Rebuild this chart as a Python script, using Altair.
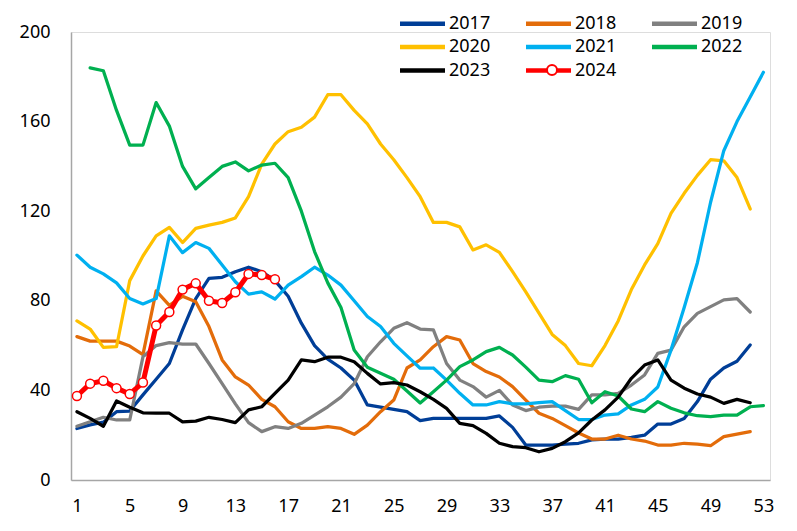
import altair as alt
import pandas as pd

years = ["2017", "2018", "2019", "2020", "2021", "2022", "2023", "2024"]
colors = ["#003E97", "#E36C0A", "#808080", "#FFC000", "#00B0F0", "#00B050", "#000000", "#FF0000"]
x_ticks = [1, 5, 9, 13, 17, 21, 25, 29, 33, 37, 41, 45, 49, 53]
y_ticks = [0, 40, 80, 120, 160, 200]

# first week of each series
starts = {"2017": 1, "2018": 1, "2019": 1, "2020": 1, "2021": 1, "2022": 2, "2023": 1, "2024": 1}

v2017 = [23, 24.6, 25.8, 30.5, 30.8, 38, 45, 52, 67, 81, 90, 90.5, 93, 95, 93, 89, 82, 70, 60, 54,
         50, 44.6, 33.5, 32.5, 31.5, 30.5, 26.5, 27.5, 27.5, 27.5, 27.5, 27.5, 28.6, 23.5, 15.6, 15.6,
         15.6, 16, 16.4, 17.9, 18.2, 18.2, 19, 20, 25, 25, 27.5, 35, 45, 50, 53, 60.3]
v2018 = [64, 62, 62, 62, 59.8, 56, 84.4, 78, 82, 79.6, 68.5, 53.6, 46, 42.4, 36, 32.7, 26, 23, 23, 23.8,
         23, 20.4, 24.5, 30.5, 35.7, 50, 53.6, 59.5, 64, 62.5, 52, 48.4, 46, 41.7, 35.7, 29.8, 27.5,
         24.3, 21, 18.3, 18.3, 20, 18.3, 17.4, 15.6, 15.6, 16.4, 16, 15.3, 19.4, 20.5, 21.6]
v2019 = [24, 26, 28, 26.8, 26.8, 55, 60, 61.3, 60.7, 60.7, 52, 43, 34, 25.6, 21.6, 23.8, 23, 25.3, 29,
         32.7, 37, 43, 55, 61.7, 67.7, 70.2, 67.4, 67, 52, 44.6, 41.7, 37, 40, 33.5, 31, 32.5, 33, 33,
         31.5, 38, 38, 38.7, 42.4, 46.9, 56.5, 58, 68.4, 74.4, 77.4, 80.4, 81, 75]
v2020 = [71, 67.4, 59.2, 59.5, 89, 100, 109, 112.8, 106, 112.3, 113.8, 115, 117, 126.5, 141, 150, 155.5,
         157.5, 162, 172, 172, 165, 159, 150, 143, 135, 126.5, 115, 115, 113, 102.7, 105, 101.6, 93, 84,
         74.5, 65, 60, 52, 51, 60, 71, 85, 96, 105.5, 119, 128, 136, 143, 142.5, 135, 121]
v2021 = [100.4, 95, 92, 88, 81, 78.6, 81, 109, 101.5, 106, 103.4, 96, 88.5, 83, 84, 80.8, 87, 90.8, 95,
         91.5, 87, 80, 73, 68.5, 61, 55.4, 49.9, 50, 44.6, 38.7, 33.5, 33.5, 35, 34, 34, 34.5, 35, 31, 27,
         27, 29, 29.5, 33.5, 36, 41.5, 58, 77, 97, 124, 147, 160, 171, 182]
v2022 = [184, 182.7, 165, 149.5, 149.5, 168.5, 158, 140, 130, 135, 140, 142, 138, 140.6, 141.4, 135, 120,
         102, 88, 77, 58, 50.3, 47.7, 45, 39.7, 34.4, 39.4, 44.6, 50.6, 53.6, 57.3, 59.2, 55.8, 50.4,
         44.6, 43.9, 46.6, 45, 34.5, 39.4, 37.5, 31.7, 30.5, 35, 32, 30, 28.7, 28.3, 29, 29, 32.7, 33.2]
v2023 = [30.5, 27.5, 24, 35.3, 32.5, 30, 29.8, 29.8, 26, 26.3, 28, 27, 25.6, 31.3, 32.7, 38.7, 44.6, 53.6,
         52.8, 54.8, 54.8, 52.8, 47.6, 42.9, 43.5, 42.4, 39.4, 36, 32, 25.3, 24.3, 20.8, 16.4, 14.9, 14.4,
         12.6, 14.1, 17.1, 21, 26.8, 31.3, 37, 45.4, 51.3, 53.6, 44.6, 41, 38.4, 37, 34.2, 36, 34.5]
v2024 = [37.5, 43, 44.3, 41, 38.4, 43.5, 69, 75, 85, 87.8, 80, 79, 83.8, 92, 91.5, 89.6]

series = {"2017": v2017, "2018": v2018, "2019": v2019, "2020": v2020,
          "2021": v2021, "2022": v2022, "2023": v2023, "2024": v2024}

rows = []
for yr in years:
    for i, v in enumerate(series[yr]):
        rows.append({"year": yr, "week": starts[yr] + i, "value": v, "mk": "o"})
df = pd.DataFrame(rows)
df_other = df[df["year"] != "2024"]
df_24 = df[df["year"] == "2024"]

FONT = "Noto Sans"
x_enc = alt.X("week:Q",
              scale=alt.Scale(domain=[0.55, 53.5], nice=False, zero=False),
              axis=alt.Axis(values=x_ticks, title=None, grid=False, ticks=False,
                            domainColor="#A6A6A6", domainWidth=1.5, labelFontSize=18,
                            labelPadding=17, labelFlush=False, labelColor="#000000",
                            labelFont=FONT))
y_enc = alt.Y("value:Q",
              scale=alt.Scale(domain=[0, 200], nice=False),
              axis=alt.Axis(values=y_ticks, title=None, grid=False, ticks=False,
                            domainColor="#A6A6A6", domainWidth=1.5, labelFontSize=18,
                            labelPadding=21, labelColor="#000000", labelFont=FONT))
color_enc = alt.Color("year:N",
                      scale=alt.Scale(domain=years, range=colors),
                      legend=alt.Legend(orient="none", legendX=340, legendY=-20, columns=3,
                                        direction="horizontal",
                                        title=None, symbolType="M-2.5,0H2.5", symbolSize=324,
                                        symbolStrokeWidth=4.5, labelFontSize=18, labelFont=FONT,
                                        labelOffset=15, columnPadding=26, rowPadding=2.5,
                                        labelColor="#000000"))

lines = alt.Chart(df_other).mark_line(strokeWidth=3.25, strokeJoin="round", strokeCap="round").encode(
    x=x_enc, y=y_enc, color=color_enc)
red_line = alt.Chart(df_24).mark_line(strokeWidth=5, strokeJoin="round", strokeCap="round").encode(
    x=x_enc, y=y_enc, color=color_enc)
red_pts = alt.Chart(df_24).mark_point(filled=True, fill="white", strokeWidth=1.5,
                                      size=80, opacity=1).encode(
    x=x_enc, y=y_enc,
    stroke=alt.Stroke("mk:N", scale=alt.Scale(domain=["o"], range=["#FF0000"]),
                      legend=alt.Legend(orient="none", legendX=475, legendY=32, title=None,
                                        labelExpr="''", symbolSize=100, labelOffset=0,
                                        symbolType="circle", symbolFillColor="white",
                                        symbolStrokeWidth=2)))

chart = alt.layer(lines, red_line, red_pts).properties(
    width=699, height=448,
    padding={"left": 71, "top": 32, "right": 27, "bottom": 51},
    autosize="none",
).configure_view(stroke=None).configure(font=FONT)

chart.save("out.html", embed_options={"renderer": "svg", "actions": False})
